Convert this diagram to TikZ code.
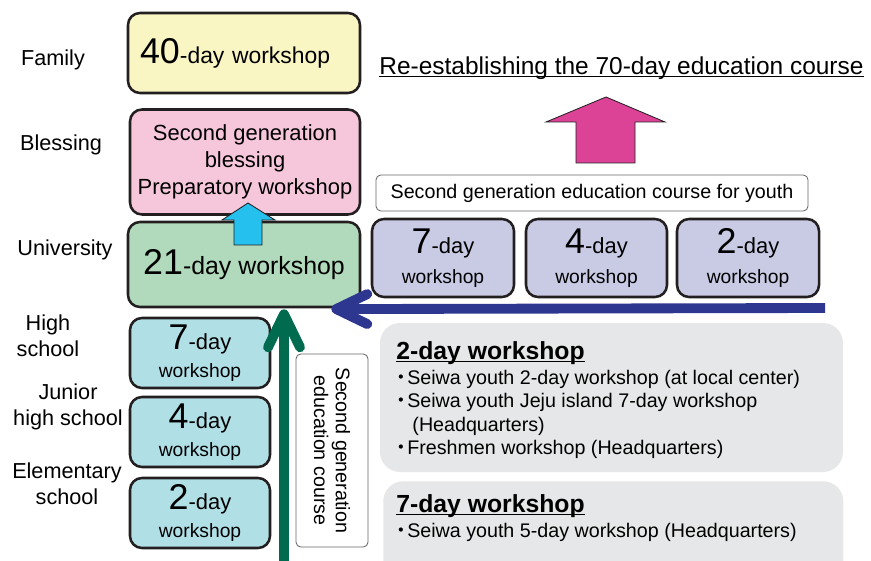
\documentclass[tikz,border=0pt]{standalone}
\usepackage{fontspec}
\setmainfont{Liberation Sans}
\newfontfamily\jpfont{Noto Sans CJK JP}
\usetikzlibrary{arrows, shapes, positioning, calc}
\definecolor{boxline}{HTML}{231F20}
\definecolor{famyellow}{HTML}{FAF6C4}
\definecolor{blesspink}{HTML}{F6C6DB}
\definecolor{unigreen}{HTML}{B0DABB}
\definecolor{youthblue}{HTML}{C9CBE4}
\definecolor{schoolcyan}{HTML}{B0DFE6}
\definecolor{upcyan}{HTML}{25C0EE}
\definecolor{upmagenta}{HTML}{DC4397}
\definecolor{flowblue}{HTML}{2E3790}
\definecolor{flowgreen}{HTML}{006B4F}
\definecolor{listgray}{HTML}{E6E7E8}
\newcommand{\daynum}[1]{{\fontsize{25.5}{25.5}\selectfont #1}}
\newcommand{\dayws}[1]
{%
	\daynum{#1}-day\\{\fontsize{13.7}{17}\selectfont workshop}%
}
\newcommand{\bul}{\makebox[7.8pt][c]{\jpfont ・}}
\newcommand{\baseul}[1]{\setbox0\hbox{#1}\rlap{\rule[-2.2pt]{\wd0}{0.9pt}}\box0}

\begin{document}
\begin{tikzpicture}[
			wsbox/.style={shape=rectangle,
				rounded corners=0.3cm,
				draw=boxline,
				line width=1.8pt,
				align=center,
				inner sep=0},
			stagetext/.style={align=center, font=\fontsize{15.4}{18.5}\selectfont},
			coursebox/.style={shape=rectangle, rounded corners=0.12cm, draw=gray!80!black,
				line width=0.6pt, fill=white, align=center, font=\fontsize{14}{15.6}\selectfont},
			listbox/.style={shape=rectangle, rounded corners=0.5cm, fill=listgray},
			listtext/.style={anchor=north west, align=left, inner sep=0, font=\fontsize{14}{16.7}\selectfont},
			blockarrow/.style={draw=boxline, line width=0.6pt},
			chevron/.style={line width=7pt, line join=round, line cap=round}]

			\useasboundingbox (0,0) rectangle (21.775,14);

			% stages on the left
			\node[stagetext] at (1.325, 12.5) (family){Family};
			\node[stagetext] at (1.525, 10.375) (blessing){Blessing};
			\node[stagetext] at (1.625, 7.75) (university){University};
			\node[stagetext] at (1.2, 5.6) (high){High\\school};
			\node[stagetext] at (1.7, 3.825) (junior){Junior\\high school};
			\node[stagetext] at (1.675, 1.9) (elementary){Elementary\\school};

			% workshops
			\node[wsbox, fill=famyellow, minimum width=5.8cm, minimum height=2cm, text width=5.2cm, align=left,
				font=\fontsize{16.3}{18}\selectfont] at (6.1, 12.675) (ws40){\daynum{40}-day workshop};
			\node[wsbox, fill=blesspink, minimum width=5.75cm, minimum height=2.625cm,
				font=\fontsize{15.6}{19.2}\selectfont] at (6.125, 9.95) (prep){Second generation\\blessing\\Preparatory workshop};
			\node[wsbox, fill=unigreen, minimum width=5.8cm, minimum height=2.125cm,
				font=\fontsize{17.7}{20}\selectfont] at (6.1, 7.3875) (ws21){\daynum{21}-day workshop};

			\node[wsbox, fill=schoolcyan, minimum width=3.5cm, minimum height=1.75cm,
				font=\fontsize{15.6}{19.5}\selectfont] at (5.0, 5.175) (high7){\dayws{7}};
			\node[wsbox, fill=schoolcyan, minimum width=3.5cm, minimum height=1.75cm,
				font=\fontsize{15.6}{19.5}\selectfont] at (5.0, 3.2) (junior4){\dayws{4}};
			\node[wsbox, fill=schoolcyan, minimum width=3.5cm, minimum height=1.75cm,
				font=\fontsize{15.6}{19.5}\selectfont] at (5.0, 1.175) (elem2){\dayws{2}};

			\node[wsbox, fill=youthblue, minimum width=3.55cm, minimum height=1.95cm,
				font=\fontsize{15.6}{21}\selectfont] at (11.075, 7.55) (youth7){\dayws{7}};
			\node[wsbox, fill=youthblue, minimum width=3.525cm, minimum height=1.95cm,
				font=\fontsize{15.6}{21}\selectfont] at (14.9125, 7.55) (youth4){\dayws{4}};
			\node[wsbox, fill=youthblue, minimum width=3.55cm, minimum height=1.95cm,
				font=\fontsize{15.6}{21}\selectfont] at (18.7, 7.55) (youth2){\dayws{2}};

			\node[coursebox, minimum width=10.8cm, minimum height=0.9cm] at (14.8, 9.175) (youthcourse){Second generation education course for youth};
			\node[coursebox, rotate=-90, minimum width=4.825cm, minimum height=1.8cm] at (8.3, 2.7375) (course){Second generation\\education course};

			\node[inner sep=0, font=\fontsize{17.4}{20}\selectfont] at (15.5375, 12.3) (title){\baseul{Re-establishing the 70-day education course}};

			% lists
			\node[listbox, minimum width=11.575cm, minimum height=3.725cm] at (15.2875, 4.0625) (list2box){};
			\node[listbox, minimum width=11.5cm, minimum height=2.6cm, anchor=north west] at (9.575, 1.975) (list7box){};
			\node[listtext] at (9.9, 5.475) (list2){{\bfseries\fontsize{17.6}{20}\selectfont\baseul{2-day workshop}}\\[1pt]
				\bul Seiwa youth 2-day workshop (at local center)\\
				\bul Seiwa youth Jeju island 7-day workshop\\
				\hspace*{11.5pt}(Headquarters)\\
				\bul Freshmen workshop (Headquarters)};
			\node[listtext] at (9.9, 1.65) (list7){{\bfseries\fontsize{17.6}{20}\selectfont\baseul{7-day workshop}}\\[1pt]
				\bul Seiwa youth 5-day workshop (Headquarters)};

			% block arrows
			\draw[blockarrow, fill=upcyan] (6.2, 8.925) -- (6.875, 8.5) -- (6.55, 8.5) -- (6.55, 7.875)
				-- (5.85, 7.875) -- (5.85, 8.5) -- (5.55, 8.5) -- cycle;
			\draw[blockarrow, fill=upmagenta] (15.15, 11.575) -- (16.625, 10.95) -- (15.875, 10.95) -- (15.875, 9.925)
				-- (14.4, 9.925) -- (14.4, 10.95) -- (13.65, 10.95) -- cycle;

			% flows into the 21-day workshop
			\coordinate (bluestart) at (20.625, 6.3);
			\coordinate (bluetip) at ([xshift=-0.625cm, yshift=-0.02cm]ws21.south east);
			\coordinate (greenstart) at (7.1, -0.2);
			\coordinate (greentip) at ([xshift=1cm, yshift=-0.15cm]ws21.south);
			\draw[flowblue, line width=7pt] (bluestart) -- (bluetip);
			\draw[flowblue, chevron] (bluetip) ++(0.775, 0.375) -- (bluetip) -- ++(0.775, -0.375);
			\draw[flowgreen, line width=7pt] (greenstart) -- (greentip);
			\draw[flowgreen, chevron] (greentip) ++(-0.4, -0.825) -- (greentip) -- ++(0.4, -0.825);
		\end{tikzpicture}
\end{document}
